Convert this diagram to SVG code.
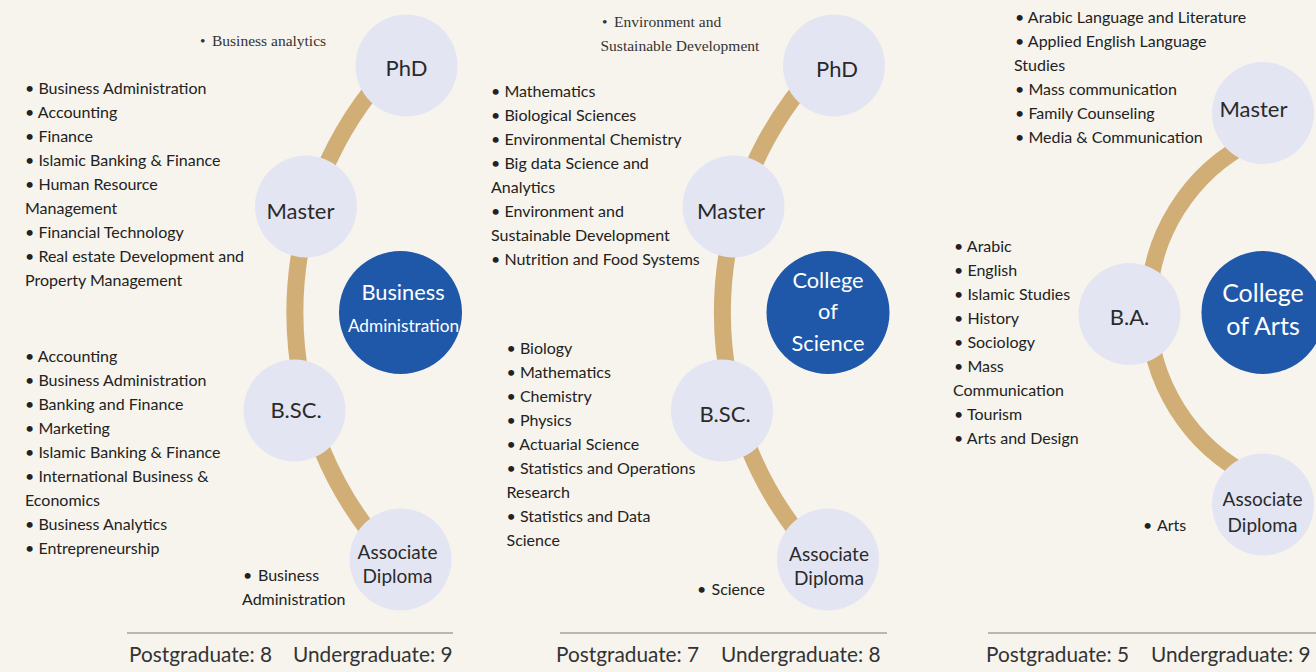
<svg xmlns="http://www.w3.org/2000/svg" width="1316" height="672" viewBox="0 0 1316 672">
<style>
.arc{fill:none;stroke:#D0AE76;stroke-width:17}
.lev{fill:#E3E5F3}
.col{fill:#1F58A8}
.lbl{font-family:Lato,"Liberation Sans",sans-serif;font-size:22px;fill:#2A2A2A;text-anchor:middle}
.asc{font-size:19px}
.wl{font-family:Lato,"Liberation Sans",sans-serif;fill:#FFFFFF;text-anchor:middle}
.item{font-family:Lato,"Liberation Sans",sans-serif;font-size:16px;fill:#222222}
.serif{font-family:"Liberation Serif",serif;font-size:15.5px;fill:#333333}
.rule{stroke:#7A7A7A;stroke-width:1.2}
.tot{font-family:Lato,"Liberation Sans",sans-serif;font-size:20.8px;fill:#333333}
</style>
<rect width="1316" height="672" fill="#F7F4ED"/>
<g id="connectors">
<path class="arc" d="M 392.5 66 A 360 360 0 0 0 392.5 559"/>
<path class="arc" d="M 820 66 A 360 360 0 0 0 820 559"/>
<path class="arc" d="M 1254 140 A 188 188 0 0 0 1254 478"/>
</g>
<g id="business-college"><circle class="col" cx="400.5" cy="312.5" r="61.5"/><text class="wl" x="403" y="300" font-size="21.8">Business</text><text class="wl" x="403.5" y="332" font-size="17.2">Administration</text></g>
<g id="ba-phd"><circle class="lev" cx="406.5" cy="65.5" r="51"/><text class="lbl" x="406.5" y="76">PhD</text></g>
<g id="ba-master"><circle class="lev" cx="306" cy="206.5" r="51"/><text class="lbl" x="300.5" y="219">Master</text></g>
<g id="ba-bsc"><circle class="lev" cx="294.5" cy="410.5" r="51"/><text class="lbl" x="296" y="418">B.SC.</text></g>
<g id="ba-associate"><circle class="lev" cx="400.5" cy="559.5" r="51"/><text class="lbl asc" x="397.5" y="559">Associate</text><text class="lbl asc" x="397.5" y="583">Diploma</text></g>
<g id="ba-phd-programs"><text class="serif" y="46"><tspan x="200">•</tspan><tspan x="212">Business analytics</tspan></text></g>
<g id="ba-master-programs">
<text class="item" x="25" y="94">• Business Administration</text>
<text class="item" x="25" y="118">• Accounting</text>
<text class="item" x="25" y="142">• Finance</text>
<text class="item" x="25" y="166">• Islamic Banking &amp; Finance</text>
<text class="item" x="25" y="190">• Human Resource</text>
<text class="item" x="25" y="214">Management</text>
<text class="item" x="25" y="238">• Financial Technology</text>
<text class="item" x="25" y="262">• Real estate Development and</text>
<text class="item" x="25" y="286">Property Management</text>
</g>
<g id="ba-bsc-programs">
<text class="item" x="25" y="361.5">• Accounting</text>
<text class="item" x="25" y="385.5">• Business Administration</text>
<text class="item" x="25" y="409.5">• Banking and Finance</text>
<text class="item" x="25" y="433.5">• Marketing</text>
<text class="item" x="25" y="457.5">• Islamic Banking &amp; Finance</text>
<text class="item" x="25" y="481.5">• International Business &amp;</text>
<text class="item" x="25" y="505.5">Economics</text>
<text class="item" x="25" y="529.5">• Business Analytics</text>
<text class="item" x="25" y="553.5">• Entrepreneurship</text>
</g>
<g id="ba-associate-programs">
<text class="item" y="580.5"><tspan x="243">•</tspan><tspan x="258">Business</tspan></text>
<text class="item" x="242" y="604.5">Administration</text>
</g>
<g id="ba-totals"><line class="rule" x1="127" y1="633" x2="453" y2="633"/><text class="tot" x="129" y="662">Postgraduate: 8</text><text class="tot" x="293" y="662">Undergraduate: 9</text></g>

<g id="science-college"><circle class="col" cx="828" cy="312.5" r="61.5"/><text class="wl" x="828" y="288" font-size="21.8">College</text><text class="wl" x="828" y="319" font-size="21.8">of</text><text class="wl" x="828" y="351" font-size="21.8">Science</text></g>
<g id="sc-phd"><circle class="lev" cx="834" cy="65.5" r="51"/><text class="lbl" x="837" y="77">PhD</text></g>
<g id="sc-master"><circle class="lev" cx="733.5" cy="206.5" r="51"/><text class="lbl" x="731" y="219">Master</text></g>
<g id="sc-bsc"><circle class="lev" cx="722" cy="410.5" r="51"/><text class="lbl" x="725" y="421.5">B.SC.</text></g>
<g id="sc-associate"><circle class="lev" cx="828" cy="559.5" r="51"/><text class="lbl asc" x="829" y="560.5">Associate</text><text class="lbl asc" x="829" y="585">Diploma</text></g>
<g id="sc-phd-programs">
<text class="serif" y="27"><tspan x="602">•</tspan><tspan x="614">Environment and</tspan></text>
<text class="serif" x="600.5" y="51">Sustainable Development</text>
</g>
<g id="sc-master-programs">
<text class="item" x="491" y="97">• Mathematics</text>
<text class="item" x="491" y="121">• Biological Sciences</text>
<text class="item" x="491" y="145">• Environmental Chemistry</text>
<text class="item" x="491" y="169">• Big data Science and</text>
<text class="item" x="491" y="193">Analytics</text>
<text class="item" x="491" y="217">• Environment and</text>
<text class="item" x="491" y="241">Sustainable Development</text>
<text class="item" x="491" y="265">• Nutrition and Food Systems</text>
</g>
<g id="sc-bsc-programs">
<text class="item" x="506.5" y="354">• Biology</text>
<text class="item" x="506.5" y="378">• Mathematics</text>
<text class="item" x="506.5" y="402">• Chemistry</text>
<text class="item" x="506.5" y="426">• Physics</text>
<text class="item" x="506.5" y="450">• Actuarial Science</text>
<text class="item" x="506.5" y="474">• Statistics and Operations</text>
<text class="item" x="506.5" y="498">Research</text>
<text class="item" x="506.5" y="522">• Statistics and Data</text>
<text class="item" x="506.5" y="546">Science</text>
</g>
<g id="sc-associate-programs"><text class="item" y="595"><tspan x="697">•</tspan><tspan x="711.5">Science</tspan></text></g>
<g id="sc-totals"><line class="rule" x1="560" y1="633" x2="887" y2="633"/><text class="tot" x="556" y="662">Postgraduate: 7</text><text class="tot" x="721" y="662">Undergraduate: 8</text></g>

<g id="arts-college"><circle class="col" cx="1263" cy="312.5" r="61.5"/><text class="wl" x="1263" y="302" font-size="25">College</text><text class="wl" x="1263" y="335" font-size="25">of Arts</text></g>
<g id="ar-master"><circle class="lev" cx="1263" cy="113" r="51"/><text class="lbl" x="1253.5" y="117">Master</text></g>
<g id="ar-ba"><circle class="lev" cx="1129.5" cy="314" r="51"/><text class="lbl" x="1129.5" y="325">B.A.</text></g>
<g id="ar-associate"><circle class="lev" cx="1263" cy="504.5" r="51"/><text class="lbl asc" x="1262.5" y="506">Associate</text><text class="lbl asc" x="1262.5" y="531.5">Diploma</text></g>
<g id="ar-master-programs">
<text class="item" x="1015" y="23">• Arabic Language and Literature</text>
<text class="item" x="1015" y="47">• Applied English Language</text>
<text class="item" x="1014" y="71">Studies</text>
<text class="item" x="1015" y="95">• Mass communication</text>
<text class="item" x="1015" y="119">• Family Counseling</text>
<text class="item" x="1015" y="143">• Media &amp; Communication</text>
</g>
<g id="ar-ba-programs">
<text class="item" x="954" y="252">• Arabic</text>
<text class="item" x="954" y="276">• English</text>
<text class="item" x="954" y="300">• Islamic Studies</text>
<text class="item" x="954" y="324">• History</text>
<text class="item" x="954" y="348">• Sociology</text>
<text class="item" x="954" y="372">• Mass</text>
<text class="item" x="953" y="396">Communication</text>
<text class="item" x="954" y="420">• Tourism</text>
<text class="item" x="954" y="444">• Arts and Design</text>
</g>
<g id="ar-associate-programs"><text class="item" y="531"><tspan x="1143">•</tspan><tspan x="1157">Arts</tspan></text></g>
<g id="ar-totals"><line class="rule" x1="988" y1="633" x2="1316" y2="633"/><text class="tot" x="986" y="662">Postgraduate: 5</text><text class="tot" x="1151" y="662">Undergraduate: 9</text></g>
</svg>
